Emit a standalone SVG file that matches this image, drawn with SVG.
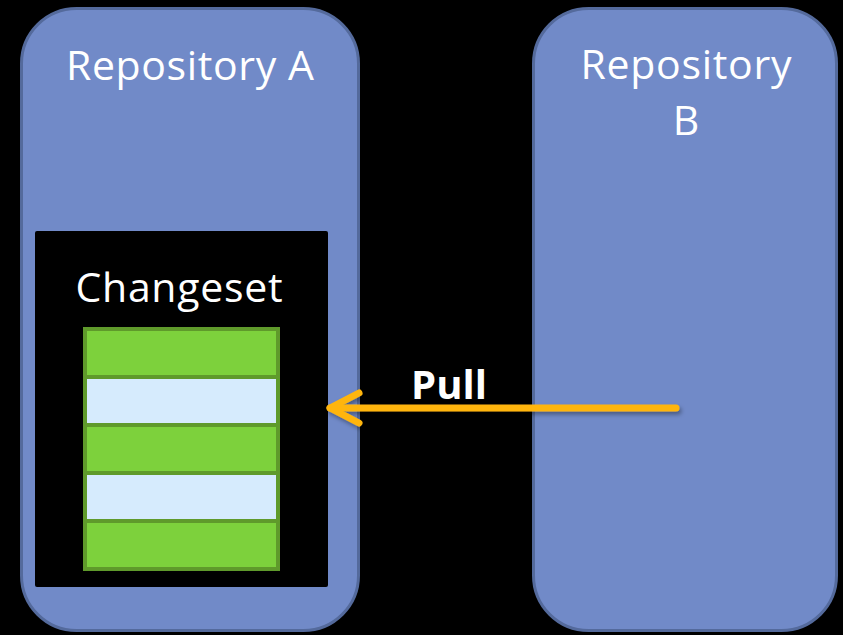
<svg xmlns="http://www.w3.org/2000/svg" width="843" height="635" viewBox="0 0 843 635">
  <defs>
    <style>
      .repo { fill: #718ac8; stroke: #546a9c; stroke-width: 3; }
      .label { font-family: "Open Sans", "Noto Sans", sans-serif; fill: #ffffff; text-anchor: middle; }
      .green { fill: #7dd13c; stroke: #5f9a2b; stroke-width: 4; }
      .blue { fill: #d6ebfd; stroke: #5f9a2b; stroke-width: 4; }
      .arrow { fill: none; stroke: #ffb50f; stroke-width: 7; stroke-linecap: round; stroke-linejoin: round; }
    </style>
    <filter id="shadow" x="-10%" y="-50%" width="120%" height="200%">
      <feDropShadow dx="2" dy="3" stdDeviation="2" flood-color="#000" flood-opacity="0.35"/>
    </filter>
  </defs>

  <rect width="843" height="635" fill="#000000"/>

  <g id="repository-a">
    <rect class="repo" x="21.5" y="8.5" width="337" height="622" rx="55" ry="55"/>
    <text class="label" x="190" y="80" font-size="41" textLength="248">Repository A</text>
  </g>

  <g id="repository-b">
    <rect class="repo" x="533.5" y="8.5" width="303" height="622" rx="55" ry="55"/>
    <text class="label" x="686" y="79" font-size="41" textLength="211">Repository</text>
    <text class="label" x="686" y="135" font-size="41">B</text>
  </g>

  <g id="changeset">
    <rect x="35" y="231" width="293" height="356" rx="2" fill="#000000"/>
    <text class="label" x="179" y="302" font-size="41" textLength="207">Changeset</text>
    <rect class="green" x="85" y="329" width="193" height="48"/>
    <rect class="blue" x="85" y="377" width="193" height="48"/>
    <rect class="green" x="85" y="425" width="193" height="48"/>
    <rect class="blue" x="85" y="473" width="193" height="48"/>
    <rect class="green" x="85" y="521" width="193" height="48"/>
  </g>

  <g id="connectors">
    <g filter="url(#shadow)">
      <path class="arrow" d="M676,408 L330,408"/>
      <path class="arrow" d="M359,393 L330,408 L359,423"/>
    </g>
    <text x="449" y="399" font-family="Open Sans, Noto Sans, sans-serif" font-weight="bold" font-size="40" fill="#ffffff" text-anchor="middle">Pull</text>
  </g>
</svg>
